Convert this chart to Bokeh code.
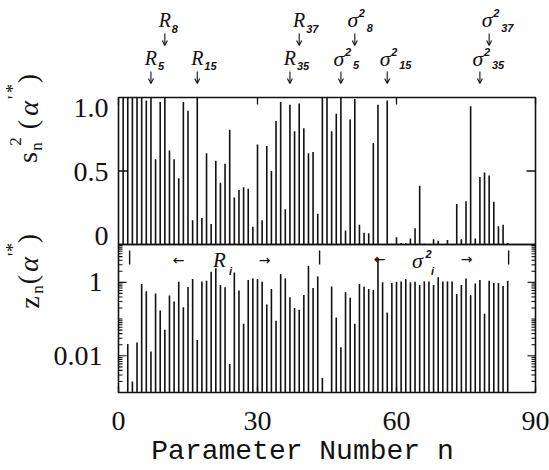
import math
from bokeh.plotting import figure
from bokeh.models import Range1d, Label, ColumnDataSource, LogScale, Arrow, OpenHead
from bokeh.embed import file_html
from bokeh.resources import INLINE

# ---------------- data ----------------
param_n = list(range(1, 85))
s2_values = [1.0, 1.0, 1.0, 1.0, 1.0, 0.98, 1.0, 0.58, 0.97, 1.0,
             0.64, 0.58, 0.45, 0.97, 0.91, 0.165, 1.0, 0.18, 0.62, 0.14,
             0.57, 0.42, 0.55, 0.78, 0.32, 0.37, 0.39, 0.38, 0.12, 0.68,
             0.165, 0.67, 0.50, 0.84, 0.97, 0.24, 0.95, 0.77, 0.96, 0.79,
             0.62, 0.63, 0.21, 1.0, 1.0, 0.77, 0.89, 1.0, 0.095, 0.85,
             0.99, 0.135, 0.08, 0.077, 0.69, 0.95, 0.0, 0.98, 0.005, 0.05,
             0.01, 0.01, 0.04, 0.11, 0.40, 0.005, 0.0, 0.035, 0.025, 0.0,
             0.03, 0.0, 0.275, 0.035, 0.295, 0.94, 0.04, 0.46, 0.49, 0.47,
             0.29, 0.125, 0.135, 0.01]
z_values = [None, 0.021, 0.002, 0.023, 0.9, 0.57, 0.013, 0.5, 0.17, 0.051,
            0.44, 0.30, 1.04, 0.21, 0.75, 1.23, 0.027, 1.06, 1.1, 1.94,
            2.4, 0.85, 0.73, 0.006, 1.86, 0.6, 0.075, 1.16, 1.28, 1.23,
            1.04, 0.25, 0.66, 0.09, 1.68, 1.28, 0.39, 0.2, 0.18, 0.45,
            2.8, 0.7, 1.45, 0.0025, None, 0.77, 0.11, 0.017, 0.54, 0.38,
            0.075, 0.9, 0.76, 0.66, 0.62, 4.7, 1.0, 0.15, 0.96, 1.03,
            1.06, 1.23, 1.0, 1.04, 0.85, 1.06, 1.06, 0.85, 1.37, 1.06,
            1.06, 1.06, 0.48, 0.85, 1.28, 0.45, 0.93, 1.16, 0.14, 1.1,
            0.96, 0.96, 0.8, 1.1]

x_ticks = [0, 30, 60, 90]
x_tick_text = ["0", "30", "60", "90"]
s2_ticks = [0.0, 0.5, 1.0]
s2_tick_text = ["0", "0.5", "1.0"]
z_ticks = [0.01, 1.0]
z_tick_text = ["0.01", "1"]
z_minor = [d * 10.0 ** k for k in range(-3, 1) for d in range(1, 10)
           if not (d == 1 and k in (-2, 0))] + [10.0]

R_OFFSET = 2        # R_i is parameter n = i + 2
SIG_OFFSET = 43     # sigma^2_i is parameter n = i + 43
r_low_idx = [5, 15, 35]
r_high_idx = [8, 37]
sig_low_idx = [5, 15, 35]
sig_high_idx = [8, 37]
bracket_n = [2.4, 43.4, 84.2]

# ---------------- layout ----------------
W, H = 549, 470
FL, FR = 118, 535
FT, FM, FB = 97, 244, 392
X0, X1 = 0, 90
LOG_BOT, LOG_MID = -3.0, 1.03
SERIF = "Liberation Serif"
INK = "#111111"

XS = (FR - FL) / (X1 - X0)
YS = FM - FT
DEC = (FB - FM) / (LOG_MID - LOG_BOT)
x_lo, x_hi = X0 - FL / XS, X1 + (W - FR) / XS
y_lo, y_hi = -(H - FM) / YS, 1.0 + FT / YS
log_lo, log_hi = LOG_BOT - (H - FB) / DEC, LOG_MID + FM / DEC


def xd(px):
    return X0 + (px - FL) / XS


def yd(py):
    return (FM - py) / YS


def py_of_log(v):
    return FM + (LOG_MID - math.log10(v)) * DEC


p = figure(width=W, height=H, x_range=Range1d(x_lo, x_hi), y_range=Range1d(y_lo, y_hi),
           x_axis_location=None, y_axis_location=None, min_border=0,
           output_backend="svg", toolbar_location=None)
p.extra_y_ranges = {"log": Range1d(10 ** log_lo, 10 ** log_hi)}
p.extra_y_scales = {"log": LogScale()}
p.grid.visible = False
p.outline_line_color = None
p.background_fill_color = "white"
p.border_fill_color = "white"

LW = 1.6
zb, zt = 10 ** LOG_BOT, 10 ** LOG_MID

# bars
src1 = ColumnDataSource(dict(n=param_n, v=s2_values, b=[s2_ticks[0]] * len(param_n)))
p.segment(x0="n", y0="b", x1="n", y1="v", source=src1, line_color=INK, line_width=1.6)
zn = [k for k, v in zip(param_n, z_values) if v is not None]
zv = [v for v in z_values if v is not None]
src2 = ColumnDataSource(dict(n=zn, v=zv, b=[zb] * len(zn)))
p.segment(x0="n", y0="b", x1="n", y1="v", source=src2, line_color=INK, line_width=1.6,
          y_range_name="log")

# frames
p.quad(left=[X0], right=[X1], bottom=[s2_ticks[0]], top=[s2_ticks[-1]],
       fill_color=None, line_color=INK, line_width=LW)
p.quad(left=[X0], right=[X1], bottom=[zb], top=[zt], fill_color=None,
       line_color=INK, line_width=LW, y_range_name="log")

# x ticks (inward), top edge of upper panel and bottom edge of lower panel
p.segment(x0=x_ticks, y0=[1.0] * 4, x1=x_ticks, y1=[1.0 - 7 / YS] * 4,
          line_color=INK, line_width=1.3)
p.segment(x0=x_ticks, y0=[zb] * 4, x1=x_ticks, y1=[10 ** (LOG_BOT + 6 / DEC)] * 4,
          line_color=INK, line_width=1.3, y_range_name="log")
# 0.5 ticks of upper panel
mid = [s2_ticks[1]]
p.segment(x0=[X0, X1], y0=mid * 2, x1=[X0 + 9 / XS, X1 - 9 / XS], y1=mid * 2,
          line_color=INK, line_width=1.3)
# log ticks, both sides
for L, k in [(8, z_ticks), (4, z_minor)]:
    m = len(k)
    p.segment(x0=[X0] * m, y0=k, x1=[X0 + L / XS] * m, y1=k, line_color=INK,
              line_width=1.1, y_range_name="log")
    p.segment(x0=[X1] * m, y0=k, x1=[X1 - L / XS] * m, y1=k, line_color=INK,
              line_width=1.1, y_range_name="log")


def txt(text, x, py, size, font=SERIF, style="normal", align="center", angle=0.0, dx=0):
    p.add_layout(Label(x=x, y=yd(py), text=text, text_font=font, text_font_size=f"{size}px",
                       text_font_style=style, text_align=align, text_baseline="middle",
                       angle=angle, x_offset=dx, text_color=INK))


def down_arrow(x, py0, py1):
    p.add_layout(Arrow(x_start=x, y_start=yd(py0), x_end=x, y_end=yd(py1),
                       line_color=INK, line_width=1.1,
                       end=OpenHead(size=5, line_color=INK, line_width=1.1)))


# tick labels
for t, s in zip(x_ticks, x_tick_text):
    txt(s, t, 420, 28)
for t, s, py in zip(s2_ticks, s2_tick_text, [235, 171, 107]):
    txt(s, X0, py, 28, align="right", dx=-10)
for t, s in zip(z_ticks, z_tick_text):
    txt(s, X0, py_of_log(t), 28, align="right", dx=-16)


# annotations above the frame
def r_mark(i, row):
    xn = i + R_OFFSET
    ly, sy, a0, a1 = (57, 65, 71, 83) if row == 0 else (19, 28, 33, 45)
    txt("R", xn, ly, 20, style="italic")
    txt(str(i), xn, sy, 11, font="Liberation Sans", style="bold italic", align="left", dx=7)
    down_arrow(xn, a0, a1)


def s_mark(i, row):
    xn = i + SIG_OFFSET
    ly, py2, sy, a0, a1 = (58, 51, 64, 71, 83) if row == 0 else (19, 12, 27, 33, 45)
    txt("\u03c3", xn, ly, 22, style="italic", dx=-2)
    txt("2", xn, py2, 11, font="Liberation Sans", style="bold italic", align="left", dx=4)
    txt(str(i), xn, sy, 11, font="Liberation Sans", style="bold italic", align="left", dx=12)
    down_arrow(xn, a0, a1)


for i in r_low_idx:
    r_mark(i, 0)
for i in r_high_idx:
    r_mark(i, 1)
for i in sig_low_idx:
    s_mark(i, 0)
for i in sig_high_idx:
    s_mark(i, 1)

# group brackets in the lower panel
p.segment(x0=bracket_n, y0=[yd(250)] * 3, x1=bracket_n, y1=[yd(264)] * 3,
          line_color=INK, line_width=1.4)
txt("\u2190", xd(178), 259, 14, font="DejaVu Sans")
txt("R", xd(219), 259, 21, style="italic")
txt("i", xd(230), 270, 11, font="Liberation Sans", style="bold italic")
txt("\u2192", xd(264), 259, 14, font="DejaVu Sans")
txt("\u2190", xd(379), 258, 14, font="DejaVu Sans")
txt("\u03c3", xd(417), 260, 22, style="italic")
txt("2", xd(428), 253, 11, font="Liberation Sans", style="bold italic")
txt("i", xd(432), 270, 11, font="Liberation Sans", style="bold italic")
txt("\u2192", xd(466), 258, 14, font="DejaVu Sans")

# axis titles
A = math.pi / 2
for s, px, py, size, st in [("s", 27, 157, 28, "normal"), ("2", 15, 141, 17, "normal"),
                            ("n", 36, 146, 17, "normal"), ("(", 27, 124, 28, "normal"),
                            ("\u03b1", 28, 108, 28, "italic"), ("'", 14, 97, 18, "normal"),
                            ("*", 12, 88, 18, "normal"), (")", 27, 78, 28, "normal")]:
    txt(s, xd(px), py, size, style=st, angle=A)
for s, px, py, size, st in [("z", 29, 302, 28, "normal"), ("n", 37, 289, 17, "normal"),
                            ("(", 27, 279, 28, "normal"), ("\u03b1", 28, 264, 28, "italic"),
                            ("'", 14, 254, 18, "normal"), ("*", 12, 247, 18, "normal"),
                            (")", 27, 238, 28, "normal")]:
    txt(s, xd(px), py, size, style=st, angle=A)

txt("Parameter Number n", xd(302), 451, 28, font="Liberation Mono")

open("out.html", "w").write(file_html(p, INLINE))
